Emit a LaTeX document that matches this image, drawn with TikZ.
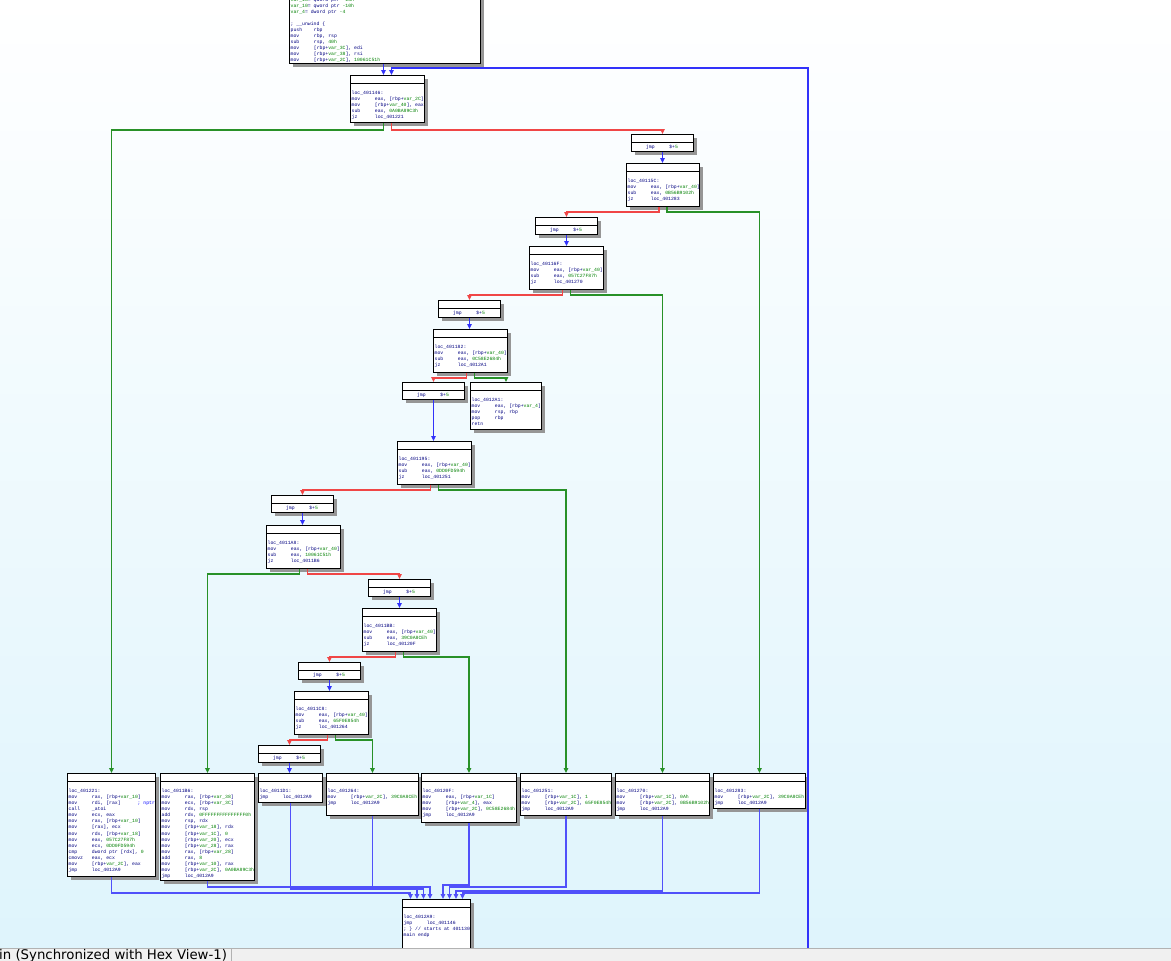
\documentclass[tikz,border=0pt]{standalone}
\usepackage{fontspec}
\setmainfont{Liberation Sans}
\newfontfamily\idafont{Liberation Mono}
\newfontfamily\statusfont{DejaVu Sans}
\usetikzlibrary{arrows.meta}
\definecolor{navy}{RGB}{0,0,128}
\definecolor{idagrn}{RGB}{0,128,0}
\definecolor{eblue}{RGB}{50,50,250}
\definecolor{lblue}{RGB}{80,80,250}
\definecolor{ered}{RGB}{240,70,70}
\definecolor{egrn}{RGB}{40,145,40}
\definecolor{bgbot}{RGB}{222,244,252}
\definecolor{shadowc}{RGB}{150,150,150}
\newcommand\gr[1]{\textcolor{idagrn}{#1}}
\newcommand\I[2]{\makebox[23.2pt][l]{#1}#2}
\newcommand\blk[6]{%
  \fill[shadowc] (#2+3.5,#3+3.5) rectangle ++(#4,#5);
  \node[blockbox, minimum width=#4pt, minimum height=#5pt, anchor=north west] (#1) at (#2,#3) {};
  \draw[line width=0.7pt] (#2,#3+8.5) -- ++(#4,0);
  \node[code, anchor=north west] (#1t) at (#2+1.5,#3+16) {#6};
}
\newcommand\jblk[3]{%
  \fill[shadowc] (#2+3.5,#3+3.5) rectangle ++(62,17);
  \node[blockbox, minimum width=62pt, minimum height=17pt, anchor=north west] (#1) at (#2,#3) {};
  \draw[line width=0.7pt] (#2,#3+8.5) -- ++(62,0);
  \node[code, anchor=center] (#1t) at (#2+31,#3+12.8) {\I{jmp}{\$+\gr{5}}};
}
\tikzset{
  blockbox/.style={draw=black, line width=0.9pt, fill=white, inner sep=0pt, rectangle},
  code/.style={inner sep=0pt, align=left, text=navy, font=\idafont\fontsize{4.8}{6.05}\selectfont},
  tip/.style={-{Triangle[width=4.5pt,length=5pt]}},
  bedge/.style={tip, draw=eblue, line width=1.3pt},
  ledge/.style={tip, draw=lblue, line width=1.3pt},
  redge/.style={tip, draw=ered, line width=1.3pt},
  gedge/.style={tip, draw=egrn, line width=1.3pt},
}
\begin{document}
\begin{tikzpicture}[x=1pt,y=-1pt]
\useasboundingbox (0,0) rectangle (1171,961);
\clip (0,0) rectangle (1171,961);
\shade[top color=white, bottom color=bgbot] (0,0) rectangle (1171,961);

% top block
\fill[shadowc] (289+3.5,-40+3.5) rectangle (480+3.5,63+3.5);
\node[blockbox, minimum width=191pt, minimum height=103pt, anchor=north west] (top) at (289,-40) {};
\node[code, anchor=south west] (topt) at (290.5,62.8) {\gr{var\_18}= qword ptr \gr{-18h}\\
\gr{var\_10}= qword ptr \gr{-10h}\\
\gr{var\_4}= dword ptr \gr{-4}\\
\mbox{}\\
; \_\_unwind \{\\
\I{push}{rbp}\\
\I{mov}{rbp, rsp}\\
\I{sub}{rsp, \gr{40h}}\\
\I{mov}{[rbp+\gr{var\_3C}], edi}\\
\I{mov}{[rbp+\gr{var\_38}], rsi}\\
\I{mov}{[rbp+\gr{var\_2C}], \gr{10061C51h}}};

\blk{b146}{350}{75}{74}{47}{loc\_401146:\\
\I{mov}{eax, [rbp+\gr{var\_2C}]}\\
\I{mov}{[rbp+\gr{var\_40}], eax}\\
\I{sub}{eax, \gr{0A0BA89C3h}}\\
\I{jz}{loc\_401221}}

\jblk{j1}{631}{134}
\blk{b15C}{626}{163}{73}{43}{loc\_40115C:\\
\I{mov}{eax, [rbp+\gr{var\_40}]}\\
\I{sub}{eax, \gr{0B56B9102h}}\\
\I{jz}{loc\_401283}}

\jblk{j2}{535}{217}
\blk{b16F}{529}{246}{74}{43}{loc\_40116F:\\
\I{mov}{eax, [rbp+\gr{var\_40}]}\\
\I{sub}{eax, \gr{057C27F87h}}\\
\I{jz}{loc\_401270}}

\jblk{j3}{438}{300}
\blk{b182}{433}{329}{74}{43}{loc\_401182:\\
\I{mov}{eax, [rbp+\gr{var\_40}]}\\
\I{sub}{eax, \gr{0C58E2684h}}\\
\I{jz}{loc\_4012A1}}

\jblk{j4}{402}{382}
\blk{b2A1}{470}{382}{71}{47}{loc\_4012A1:\\
\I{mov}{eax, [rbp+\gr{var\_4}]}\\
\I{mov}{rsp, rbp}\\
\I{pop}{rbp}\\
retn}

\blk{b195}{397}{441}{74}{43}{loc\_401195:\\
\I{mov}{eax, [rbp+\gr{var\_40}]}\\
\I{sub}{eax, \gr{0DD0FD594h}}\\
\I{jz}{loc\_401251}}

\jblk{j5}{271}{495}
\blk{b1A8}{266}{525}{74}{43}{loc\_4011A8:\\
\I{mov}{eax, [rbp+\gr{var\_40}]}\\
\I{sub}{eax, \gr{10061C51h}}\\
\I{jz}{loc\_4011B6}}

\jblk{j6}{368}{579}
\blk{b1BB}{362}{608}{74}{43}{loc\_4011BB:\\
\I{mov}{eax, [rbp+\gr{var\_40}]}\\
\I{sub}{eax, \gr{39C0A8CEh}}\\
\I{jz}{loc\_40120F}}

\jblk{j7}{298}{662}
\blk{b1C8}{294}{691}{74}{43}{loc\_4011C8:\\
\I{mov}{eax, [rbp+\gr{var\_40}]}\\
\I{sub}{eax, \gr{65F0E854h}}\\
\I{jz}{loc\_401264}}

\jblk{j8}{258}{745}

\blk{b221}{67}{773}{88}{103}{loc\_401221:\\
\I{mov}{rax, [rbp+\gr{var\_10}]}\\
\I{mov}{rdi, [rax]}\hspace{17pt}\textcolor{blue}{; nptr}\\
\I{call}{\_atoi}\\
\I{mov}{ecx, eax}\\
\I{mov}{rax, [rbp+\gr{var\_10}]}\\
\I{mov}{[rax], ecx}\\
\I{mov}{rdx, [rbp+\gr{var\_18}]}\\
\I{mov}{eax, \gr{057C27F87h}}\\
\I{mov}{ecx, \gr{0DD0FD594h}}\\
\I{cmp}{dword ptr [rdx], \gr{0}}\\
\I{cmovz}{eax, ecx}\\
\I{mov}{[rbp+\gr{var\_2C}], eax}\\
\I{jmp}{loc\_4012A9}}

\blk{b1B6}{160}{773}{94}{107}{loc\_4011B6:\\
\I{mov}{rax, [rbp+\gr{var\_38}]}\\
\I{mov}{ecx, [rbp+\gr{var\_3C}]}\\
\I{mov}{rdx, rsp}\\
\I{add}{rdx, \gr{0FFFFFFFFFFFFFFF0h}}\\
\I{mov}{rsp, rdx}\\
\I{mov}{[rbp+\gr{var\_18}], rdx}\\
\I{mov}{[rbp+\gr{var\_1C}], \gr{0}}\\
\I{mov}{[rbp+\gr{var\_20}], ecx}\\
\I{mov}{[rbp+\gr{var\_28}], rax}\\
\I{mov}{rax, [rbp+\gr{var\_28}]}\\
\I{add}{rax, \gr{8}}\\
\I{mov}{[rbp+\gr{var\_10}], rax}\\
\I{mov}{[rbp+\gr{var\_2C}], \gr{0A0BA89C3h}}\\
\I{jmp}{loc\_4012A9}}

\blk{b1D1}{258}{773}{64}{29}{loc\_4011D1:\\
\I{jmp}{loc\_4012A9}}

\blk{b264}{326}{773}{92}{42}{loc\_401264:\\
\I{mov}{[rbp+\gr{var\_2C}], \gr{39C0A8CEh}}\\
\I{jmp}{loc\_4012A9}}

\blk{b20F}{421}{773}{95}{49}{loc\_40120F:\\
\I{mov}{eax, [rbp+\gr{var\_1C}]}\\
\I{mov}{[rbp+\gr{var\_4}], eax}\\
\I{mov}{[rbp+\gr{var\_2C}], \gr{0C58E2684h}}\\
\I{jmp}{loc\_4012A9}}

\blk{b251}{520}{773}{91}{42}{loc\_401251:\\
\I{mov}{[rbp+\gr{var\_1C}], \gr{1}}\\
\I{mov}{[rbp+\gr{var\_2C}], \gr{65F0E854h}}\\
\I{jmp}{loc\_4012A9}}

\blk{b270}{615}{773}{94}{42}{loc\_401270:\\
\I{mov}{[rbp+\gr{var\_1C}], \gr{0Ah}}\\
\I{mov}{[rbp+\gr{var\_2C}], \gr{0B56B9102h}}\\
\I{jmp}{loc\_4012A9}}

\blk{b283}{713}{773}{92}{35}{loc\_401283:\\
\I{mov}{[rbp+\gr{var\_2C}], \gr{39C0A8CEh}}\\
\I{jmp}{loc\_4012A9}}

\blk{b2A9}{402}{899}{68}{56}{loc\_4012A9:\\
\I{jmp}{loc\_401146}\\
; \} // starts at 401130\\
main endp}

% edges
\draw[bedge] ([xshift=-4pt]b146.north |- top.south) -- ([xshift=-4pt]b146.north);
\draw[bedge] (b2A9.south) -- ++(0,12) -| (808,68) -| ([xshift=4pt]b146.north);

\draw[gedge] ([xshift=-4pt]b146.south) -- ++(0,7) -| (b221.north);
\draw[redge] ([xshift=4pt]b146.south) -- ++(0,7) -| (j1.north);
\draw[bedge] (j1.south) -- (j1.south |- b15C.north);

\draw[redge] ([xshift=-4pt]b15C.south) -- ++(0,5) -| (j2.north);
\draw[gedge] ([xshift=4pt]b15C.south) -- ++(0,5) -| (b283.north);
\draw[bedge] (j2.south) -- (j2.south |- b16F.north);

\draw[redge] ([xshift=-4pt]b16F.south) -- ++(0,5) -| (j3.north);
\draw[gedge] ([xshift=4pt]b16F.south) -- ++(0,5) -| (b270.north);
\draw[bedge] (j3.south) -- (j3.south |- b182.north);

\draw[redge] ([xshift=-4pt]b182.south) -- ++(0,5) -| (j4.north);
\draw[gedge] ([xshift=4pt]b182.south) -- ++(0,5) -| (b2A1.north);
\draw[bedge] (j4.south) -- (j4.south |- b195.north);

\draw[redge] ([xshift=-4pt]b195.south) -- ++(0,5) -| (j5.north);
\draw[gedge] ([xshift=4pt]b195.south) -- ++(0,5) -| (b251.north);
\draw[bedge] (j5.south) -- (j5.south |- b1A8.north);

\draw[gedge] ([xshift=-4pt]b1A8.south) -- ++(0,5) -| (b1B6.north);
\draw[redge] ([xshift=4pt]b1A8.south) -- ++(0,5) -| (j6.north);
\draw[bedge] (j6.south) -- (j6.south |- b1BB.north);

\draw[redge] ([xshift=-4pt]b1BB.south) -- ++(0,5) -| (j7.north);
\draw[gedge] ([xshift=4pt]b1BB.south) -- ++(0,5) -| (b20F.north);
\draw[bedge] (j7.south) -- (j7.south |- b1C8.north);

\draw[redge] ([xshift=-4pt]b1C8.south) -- ++(0,5) -| (j8.north);
\draw[gedge] ([xshift=4pt]b1C8.south) -- ++(0,5) -| (b264.north);
\draw[bedge] (j8.south) -- (j8.south |- b1D1.north);

% into loc_4012A9
\draw[ledge] (b221.south) -- (b221.south |- 0,893) -| ([xshift=-26pt]b2A9.north);
\draw[ledge] (b1B6.south) -- (b1B6.south |- 0,887) -| ([xshift=-19.5pt]b2A9.north);
\draw[ledge] (b1D1.south) -- (b1D1.south |- 0,889) -| ([xshift=-13pt]b2A9.north);
\draw[ledge] (b264.south) -- (b264.south |- 0,887) -| ([xshift=-6.5pt]b2A9.north);
\draw[ledge] (b20F.south) -- (b20F.south |- 0,885) -| ([xshift=6.5pt]b2A9.north);
\draw[ledge] (b251.south) -- (b251.south |- 0,887) -| ([xshift=13pt]b2A9.north);
\draw[ledge] (b270.south) -- (b270.south |- 0,891) -| ([xshift=19.5pt]b2A9.north);
\draw[ledge] (b283.south) -- (b283.south |- 0,893) -| ([xshift=26pt]b2A9.north);

% status bar
\fill[white!94!black] (0,948) rectangle (1171,961);
\draw[white!70!black] (0,948.5) -- (1171,948.5);
\draw[white!70!black] (231,949) -- (231,961);
\node[anchor=base west, inner sep=0pt, font=\statusfont\fontsize{13.3}{15}\selectfont] (status) at (-1,959.8) {in (Synchronized with Hex View-1)};
\end{tikzpicture}
\end{document}
